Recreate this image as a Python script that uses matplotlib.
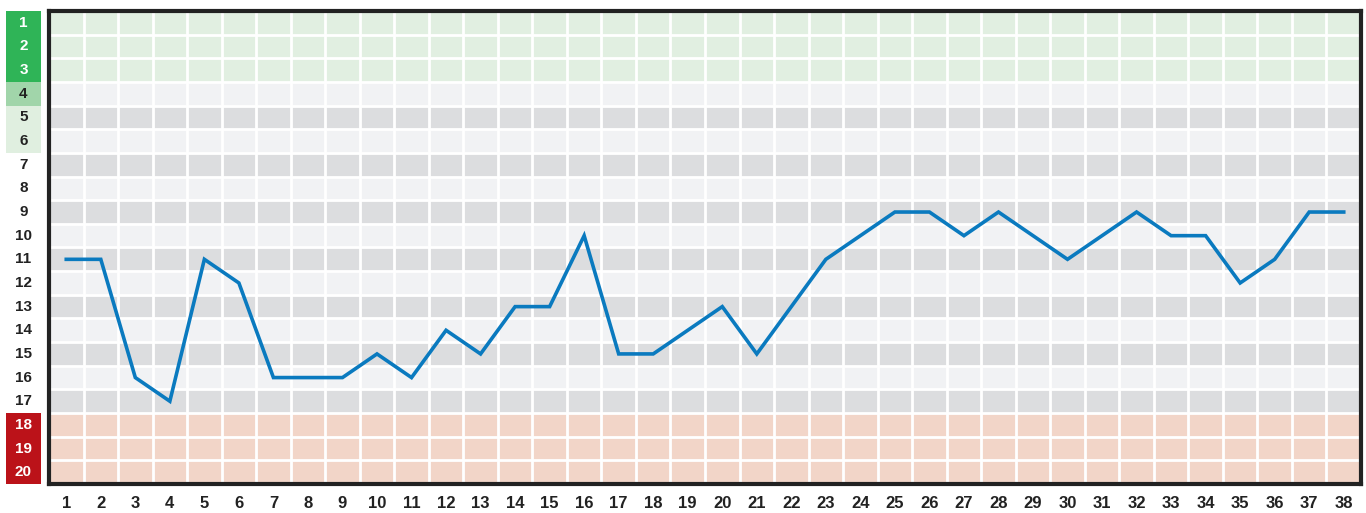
import matplotlib.pyplot as plt
from matplotlib.patches import Rectangle

plt.rcParams['font.family'] = ['Liberation Sans', 'DejaVu Sans']

# matchdays and league position after each one
matchdays = list(range(1, 39))
positions = [11, 11, 16, 17, 11, 12, 16, 16, 16, 15, 16, 14, 15, 13, 13, 10, 15, 15, 14,
             13, 15, 13, 11, 10, 9, 9, 10, 9, 10, 11, 10, 9, 10, 10, 12, 11, 9, 9]
ranks = list(range(1, 21))

# label box colours for the positions at the left
label_bg = {1: '#2fb457', 2: '#2fb457', 3: '#2fb457', 4: '#a1d5aa', 5: '#e0efe0', 6: '#e0efe0',
            18: '#bb1219', 19: '#bb1219', 20: '#bb1219'}
label_fg = {1: 'white', 2: 'white', 3: 'white', 18: 'white', 19: 'white', 20: 'white'}


def band_color(r):
    if r <= 3:
        return '#e1efe1'
    if r >= 18:
        return '#f2d5c8'
    return '#f1f2f4' if r % 2 == 0 else '#dcdddf'


fig = plt.figure(figsize=(13.66, 5.13), dpi=100)
ax = fig.add_axes([49 / 1366, 1 - 484 / 513, 1312 / 1366, 473 / 513])

for r in ranks:
    ax.axhspan(r - 0.5, r + 0.5, color=band_color(r), lw=0, zorder=0)
for r in ranks[:-1]:
    ax.axhline(r + 0.5, color='white', lw=2, zorder=1)
for m in matchdays[:-1]:
    ax.axvline(m + 0.5, color='white', lw=2, zorder=1)

ax.plot(matchdays, positions, color='#0a7abf', lw=2.6, zorder=3, solid_joinstyle='miter')

ax.set_xlim(0.5, 38.5)
ax.set_ylim(20.5, 0.5)

for s in ax.spines.values():
    s.set_linewidth(3)
    s.set_color('#222222')

ax.set_xticks(matchdays)
ax.set_xticklabels([str(m) for m in matchdays], fontsize=12, fontweight='bold', color='#222222')
ax.tick_params(axis='x', length=0, pad=9)
ax.set_yticks([])

tr = ax.get_yaxis_transform()
x0 = -43 / 1312
w = 35 / 1312
for r in ranks:
    if r in label_bg:
        ax.add_patch(Rectangle((x0, r - 0.5), w, 1, transform=tr, color=label_bg[r],
                               lw=0, clip_on=False))
    ax.text(x0 + w / 2, r, str(r), transform=tr, ha='center', va='center',
            fontsize=11, fontweight='bold', color=label_fg.get(r, '#222222'))

fig.savefig('out.png', dpi=100)
